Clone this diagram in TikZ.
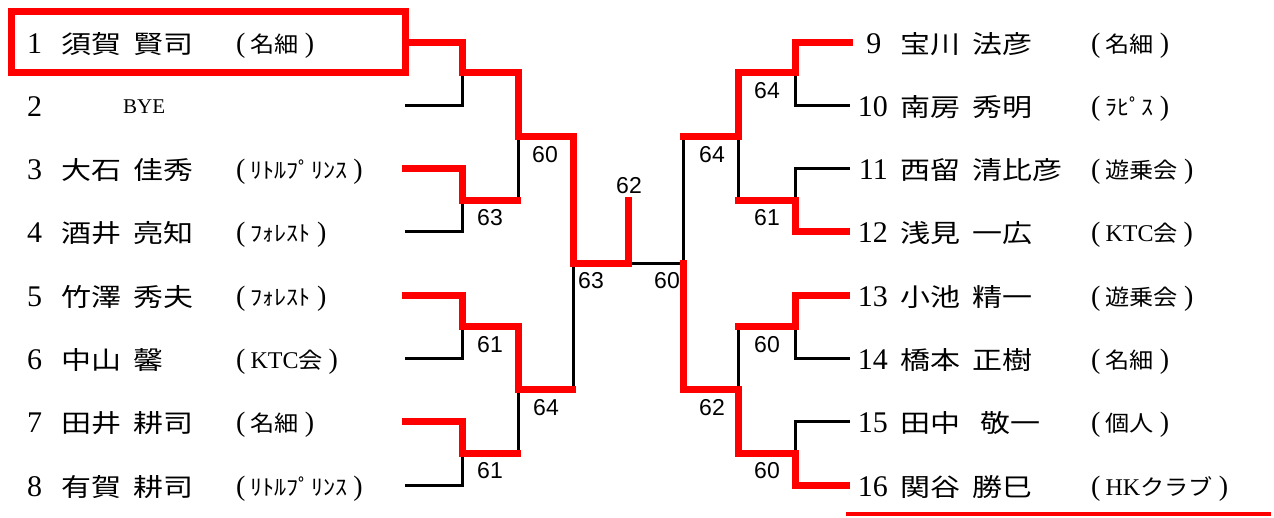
\documentclass[tikz,border=0pt]{standalone}
\usepackage{fontspec}
\setmainfont{Liberation Serif}
\newfontfamily\jpname{Noto Sans CJK JP}[FakeStretch=1.2,WordSpace=1.8]
\newfontfamily\jpaff{Noto Sans CJK JP}[FakeStretch=1.1]
\newfontfamily\scorefont{Liberation Sans}
\newcommand\latin[1]{{\rmfamily\fontsize{24}{24}\selectfont #1}}
\newcommand\bracketch[1]{{\rmfamily\fontsize{28}{28}\selectfont #1}}
\newcommand\aff[1]{\bracketch{(}\hspace{5pt}#1\hspace{6pt}\bracketch{)}}

\begin{document}
\begin{tikzpicture}[x=1pt, y=-1pt,
    wline/.style={red, line width=7pt},
    bline/.style={black, line width=3pt},
    numtext/.style={inner sep=0pt, font=\fontsize{30}{30}\selectfont},
    nametext/.style={inner sep=0pt, font=\jpname\fontsize{25}{25}\selectfont},
    afftext/.style={inner sep=0pt, font=\jpaff\fontsize{22}{22}\selectfont},
    score/.style={inner sep=0pt, font=\scorefont\fontsize{23}{23}\selectfont}]
  \useasboundingbox (0,0) rectangle (1274,517);

  % Left players
  \foreach \i/\nm/\af in {1/須賀 賢司/名細, 3/大石 佳秀/ﾘﾄﾙﾌﾟﾘﾝｽ,
      4/酒井 亮知/ﾌｫﾚｽﾄ, 5/竹澤 秀夫/ﾌｫﾚｽﾄ, 6/中山 馨/\latin{KTC}会,
      7/田井 耕司/名細, 8/有賀 耕司/ﾘﾄﾙﾌﾟﾘﾝｽ}{
    \pgfmathsetmacro\y{42+(\i-1)*63.3}
    \node[numtext, anchor=base west] (n\i) at (27,\y+11) {\i};
    \node[nametext, anchor=base west] (p\i) at (61,\y+11) {\nm};
    \node[afftext, anchor=base west] (a\i) at (236,\y+10) {\aff{\af}};
  }
  \node[numtext, anchor=base west] (n2) at (27,116) {2};
  \node[anchor=base west, inner sep=0pt, font=\fontsize{21}{21}\selectfont] (p2) at (123,113) {BYE};

  % Right players
  \foreach \i/\nx/\nm/\af in {9/881.5/宝川 法彦/名細, 10/888/南房 秀明/ﾗﾋﾟｽ,
      11/888/西留 清比彦/遊乗会, 12/888/浅見 一広/\latin{KTC}会,
      13/888/小池 精一/遊乗会, 14/888/橋本 正樹/名細,
      15/888/田中\hspace{8pt} 敬一/個人, 16/888/関谷 勝巳/\latin{HK}クラブ}{
    \pgfmathsetmacro\y{42+(\i-9)*63.3}
    \node[numtext, anchor=base east] (n\i) at (\nx,\y+11) {\i};
    \node[nametext, anchor=base west] (p\i) at (900,\y+11) {\nm};
    \node[afftext, anchor=base west] (a\i) at (1091,\y+10) {\aff{\af}};
  }

  % Bracket, left half
  \foreach \a/\b in {42/105, 168/231, 295/358, 421/485}
    \draw[bline] (405,\a) -- (462,\a) -- (462,\b) -- (405,\b);
  \draw[bline] (462,72) -- (518,72) -- (518,200) -- (462,200);
  \draw[bline] (462,326) -- (518,326) -- (518,453) -- (462,453);
  \draw[bline] (518,136) -- (573,136) -- (573,389) -- (518,389);

  % Bracket, right half
  \foreach \a/\b in {42/105, 168/231, 295/358, 421/485}
    \draw[bline] (850,\a) -- (795,\a) -- (795,\b) -- (850,\b);
  \draw[bline] (795,72) -- (738,72) -- (738,200) -- (795,200);
  \draw[bline] (795,326) -- (738,326) -- (738,453) -- (795,453);
  \draw[bline] (738,136) -- (683,136) -- (683,389) -- (738,389);

  % Final
  \draw[bline] (573,263) -- (683,263);

  % Winners
  \draw[wline] (11,11) rectangle (405,72);
  \draw[wline] (405,42) -- (462,42) -- (462,72) -- (518,72) -- (518,136)
    -- (573,136) -- (573,263) -- (628,263) -- (628,197);
  \draw[wline] (402,168) -- (462,168) -- (462,200) -- (521,200);
  \draw[wline] (402,295) -- (462,295) -- (462,326) -- (518,326) -- (518,389) -- (576,389);
  \draw[wline] (402,421) -- (462,421) -- (462,453) -- (521,453);
  \draw[wline] (853,42) -- (795,42) -- (795,72) -- (738,72) -- (738,136) -- (679.5,136);
  \draw[wline] (850,231) -- (795,231) -- (795,200) -- (735,200);
  \draw[wline] (850,295) -- (795,295) -- (795,326) -- (735,326);
  \draw[wline] (850,485) -- (795,485) -- (795,453) -- (738,453) -- (738,389)
    -- (683,389) -- (683,259.5);
  \draw[red, line width=4pt] (846,514) -- (1271,514);

  % Scores
  \foreach \x/\y/\s [count=\k] in {545/155/60, 490/218/63, 490/345/61, 546/408/64,
      490/471/61, 591/281/63, 629/186/62, 667/281/60, 767/91/64, 712/155/64,
      767/218/61, 767/345/60, 712/408/62, 767/471/60}
    \node[score] (s\k) at (\x,\y) {\s};
\end{tikzpicture}
\end{document}
